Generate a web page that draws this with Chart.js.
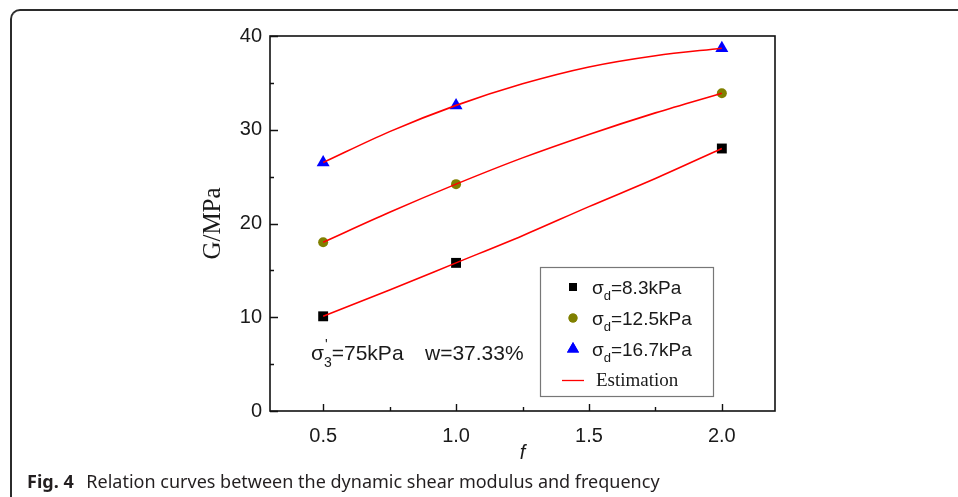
<!DOCTYPE html>
<html>
<head>
<meta charset="utf-8">
<script src="https://cdn.jsdelivr.net/npm/chart.js@4.4.1/dist/chart.umd.min.js"></script>
<style>
  html, body { margin: 0; padding: 0; background: #fff; width: 958px; height: 497px; overflow: hidden; }
  #wrap { position: relative; width: 958px; height: 497px; }
  #frame { position: absolute; left: 10px; top: 9px; width: 970px; height: 510px;
           border-top: 2px solid #2b2b2b; border-left: 2px solid #2b2b2b;
           border-top-left-radius: 10px; box-sizing: border-box; }
  #chart { position: absolute; left: 0; top: 0; }
  #caption { position: absolute; left: 27px; top: 469px; font-family: "Noto Sans", sans-serif;
             font-size: 18px; color: #231f20; white-space: nowrap; }
  #caption b { margin-right: 8px; }
</style>
</head>
<body>
<div id="wrap">
  <div id="frame"></div>
  <canvas id="chart" width="958" height="497"></canvas>
  <div id="caption"><b>Fig. 4</b> Relation curves between the dynamic shear modulus and frequency</div>
</div>
<script>
// Measured shear modulus G (MPa) at each loading frequency f (Hz)
const freq = [0.5, 1.0, 2.0];
const g83 = [10.1, 15.8, 28.0];
const g125 = [18.0, 24.2, 33.9];
const g167 = [26.5, 32.6, 38.7];

// Estimation curves
const fitFreq = [0.5, 0.75, 1.0, 1.25, 1.5, 1.75, 2.0];
const fit83 = [10.1, 12.9, 15.8, 18.7, 21.8, 24.8, 28.0];
const fit125 = [18.0, 21.2, 24.2, 27.0, 29.5, 31.8, 33.9];
const fit167 = [26.5, 29.8, 32.6, 34.9, 36.7, 37.9, 38.7];

const seriesLabels = ['8.3kPa', '12.5kPa', '16.7kPa'];
const fitLabel = 'Estimation';
const xTicks = [0.5, 1.0, 1.5, 2.0];
const xMinorTicks = [0.75, 1.25, 1.75];
const yTicks = [0, 10, 20, 30, 40];
const yMinorTicks = [5, 15, 25, 35];
const noteStress = '=75kPa';
const noteWater = 'w=37.33%';

const pairs = (xs, ys) => xs.map((x, i) => ({ x: x, y: ys[i] }));

const markerStyles = [
  { color: '#000000', pointStyle: 'rect', radius: 7, legendRadius: 5.6 },
  { color: '#808000', pointStyle: 'circle', radius: 5, legendRadius: 4.5 },
  { color: '#0000ff', pointStyle: 'triangle', radius: 7.5, legendRadius: 7 }
];
const fitColor = '#ff0000';
const inkColor = '#1a1a1a';
const sansFont = '"Liberation Sans", Arial, sans-serif';
const serifFont = '"Liberation Serif", "Times New Roman", serif';

const measured = [g83, g125, g167].map((ys, i) => ({
  type: 'scatter',
  label: seriesLabels[i],
  data: pairs(freq, ys),
  pointStyle: markerStyles[i].pointStyle,
  pointRadius: markerStyles[i].radius,
  pointBackgroundColor: markerStyles[i].color,
  pointBorderColor: markerStyles[i].color,
  pointBorderWidth: 0,
  showLine: false,
  order: 2
}));

const fits = [fit83, fit125, fit167].map(ys => ({
  type: 'line',
  label: fitLabel,
  data: pairs(fitFreq, ys),
  borderColor: fitColor,
  borderWidth: 1.6,
  pointRadius: 0,
  cubicInterpolationMode: 'monotone',
  fill: false,
  order: 1
}));

// Axis box, inward ticks, legend and annotation
const decorations = {
  id: 'decorations',
  afterDatasetsDraw(chart) {
    const ctx = chart.ctx;
    const area = chart.chartArea;
    const xs = chart.scales.x, ys = chart.scales.y;
    ctx.save();
    ctx.strokeStyle = '#111';
    ctx.lineWidth = 1.6;
    ctx.strokeRect(area.left, area.top, area.right - area.left, area.bottom - area.top);

    ctx.lineWidth = 1.4;
    ctx.beginPath();
    xTicks.forEach(v => { const p = Math.round(xs.getPixelForValue(v)) + 0.5; ctx.moveTo(p, area.bottom); ctx.lineTo(p, area.bottom - 7); });
    xMinorTicks.forEach(v => { const p = Math.round(xs.getPixelForValue(v)) + 0.5; ctx.moveTo(p, area.bottom); ctx.lineTo(p, area.bottom - 4); });
    yTicks.forEach(v => { const p = Math.round(ys.getPixelForValue(v)) + 0.5; ctx.moveTo(area.left, p); ctx.lineTo(area.left + 8, p); });
    yMinorTicks.forEach(v => { const p = Math.round(ys.getPixelForValue(v)) + 0.5; ctx.moveTo(area.left, p); ctx.lineTo(area.left + 4, p); });
    ctx.stroke();

    // legend
    const lx = 540, ly = 267, lw = 173, lh = 129;
    ctx.strokeStyle = '#777';
    ctx.lineWidth = 1.2;
    ctx.strokeRect(lx + 0.5, ly + 0.5, lw, lh);
    const rowY = [287, 318, 349, 380];
    const mx = 573, tx = 592;
    measured.forEach((ds, i) => {
      ctx.fillStyle = ds.pointBackgroundColor;
      ctx.beginPath();
      Chart.helpers.drawPoint(ctx, {
        pointStyle: ds.pointStyle,
        radius: markerStyles[i].legendRadius,
        rotation: 0,
        borderWidth: 0
      }, mx, rowY[i]);
      ctx.fill();
      ctx.fillStyle = inkColor;
      ctx.textBaseline = 'alphabetic';
      ctx.textAlign = 'left';
      ctx.font = '19px ' + sansFont;
      const base = rowY[i] + 7;
      ctx.fillText('\u03c3', tx, base);
      const sw = ctx.measureText('\u03c3').width;
      ctx.font = '13px ' + sansFont;
      ctx.fillText('d', tx + sw, base + 6);
      const dw = ctx.measureText('d').width;
      ctx.font = '19px ' + sansFont;
      ctx.fillText('=' + ds.label, tx + sw + dw, base);
    });
    ctx.strokeStyle = fitColor;
    ctx.lineWidth = 1.3;
    ctx.beginPath();
    ctx.moveTo(562, rowY[3] + 0.5);
    ctx.lineTo(584, rowY[3] + 0.5);
    ctx.stroke();
    ctx.fillStyle = inkColor;
    ctx.font = '19px ' + serifFont;
    ctx.fillText(fitLabel, 596, rowY[3] + 6);

    // test condition note
    const nb = 360, nx = 311;
    ctx.font = '21px ' + sansFont;
    ctx.fillText('\u03c3', nx, nb);
    const s = ctx.measureText('\u03c3').width;
    ctx.font = '14px ' + sansFont;
    ctx.fillText("'", nx + s + 1, nb - 11);
    ctx.fillText('3', nx + s, nb + 7);
    const t = ctx.measureText('3').width;
    ctx.font = '21px ' + sansFont;
    ctx.fillText(noteStress, nx + s + t, nb);
    ctx.fillText(noteWater, 425, nb);
    ctx.restore();
  }
};

new Chart(document.getElementById('chart'), {
  data: { datasets: fits.concat(measured) },
  options: {
    responsive: false,
    animation: false,
    events: [],
    layout: { padding: { left: 0, top: 36, right: 183, bottom: 0 } },
    plugins: { legend: { display: false }, tooltip: { enabled: false } },
    scales: {
      x: {
        type: 'linear',
        min: 0.3,
        max: 2.2,
        afterBuildTicks: scale => { scale.ticks = xTicks.map(v => ({ value: v })); },
        afterFit: scale => { scale.height = 86; },
        grid: { display: false, drawTicks: false },
        border: { display: false },
        ticks: {
          padding: 13,
          color: inkColor,
          font: { family: sansFont, size: 20 },
          callback: v => v.toFixed(1),
          maxRotation: 0
        },
        title: {
          display: true,
          text: 'f',
          color: inkColor,
          font: { family: sansFont, size: 20, style: 'italic' },
          padding: { top: 0, bottom: 32 }
        }
      },
      y: {
        type: 'linear',
        min: 0,
        max: 40,
        afterBuildTicks: scale => { scale.ticks = yTicks.map(v => ({ value: v })); },
        afterFit: scale => { scale.width = 270; },
        grid: { display: false, drawTicks: false },
        border: { display: false },
        ticks: {
          padding: 8,
          color: inkColor,
          font: { family: sansFont, size: 20 }
        },
        title: {
          display: true,
          text: 'G/MPa',
          color: inkColor,
          font: { family: serifFont, size: 25 },
          padding: { top: 198, bottom: 0 }
        }
      }
    }
  },
  plugins: [decorations]
});
</script>
</body>
</html>
